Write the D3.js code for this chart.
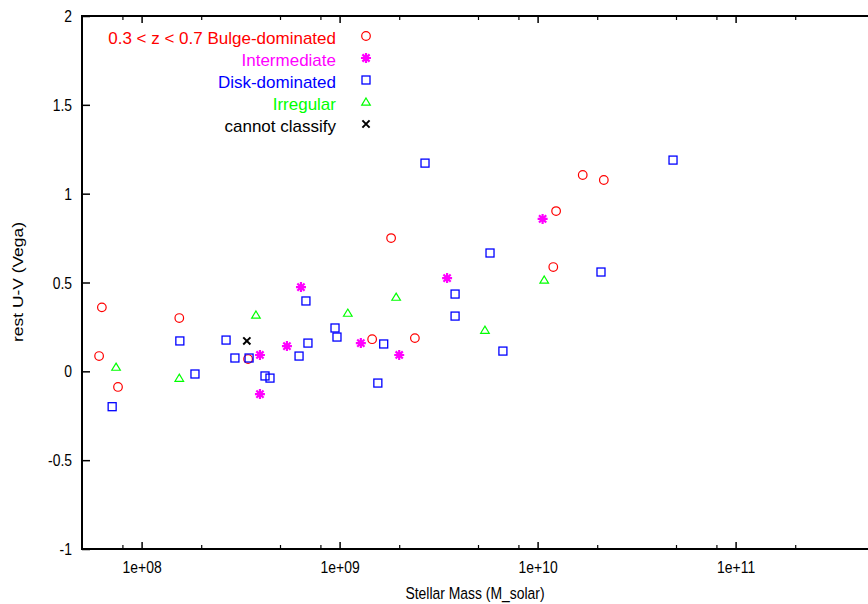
<!DOCTYPE html>
<html>
<head>
<meta charset="utf-8">
<script src="https://cdn.jsdelivr.net/npm/d3@7/dist/d3.min.js"></script>
<style>
  html, body { margin: 0; padding: 0; background: #fff; }
  svg { display: block; }
  text { font-family: "Liberation Sans", Arial, sans-serif; }
</style>
</head>
<body>
<svg id="chart" width="868" height="604"></svg>
<script>
// ---- data (stellar mass in M_solar, rest U-V in Vega mag) ----
const bulgeMass = [6.3e7, 6.1e7, 7.6e7, 1.55e8, 3.45e8, 1.82e9, 1.46e9, 2.40e9, 1.24e10, 1.20e10, 1.69e10, 2.16e10];
const bulgeUV   = [0.36, 0.086, -0.088, 0.30, 0.069, 0.75, 0.181, 0.187, 0.902, 0.587, 1.105, 1.077];

const interMass = [3.96e8, 3.96e8, 6.38e8, 5.42e8, 1.28e9, 2.0e9, 3.49e9, 1.06e10];
const interUV   = [0.092, -0.128, 0.474, 0.142, 0.159, 0.092, 0.525, 0.858];

const diskMass = [7.1e7, 1.56e8, 1.86e8, 2.67e8, 2.96e8, 3.49e8, 4.20e8, 4.45e8, 6.76e8, 6.92e8, 6.24e8,
                  9.48e8, 9.70e8, 1.67e9, 1.56e9, 2.70e9, 5.75e9, 3.83e9, 3.83e9, 6.68e9, 2.09e10, 4.83e10];
const diskUV   = [-0.199, 0.171, -0.015, 0.176, 0.075, 0.075, -0.026, -0.038, 0.396, 0.159, 0.086,
                  0.244, 0.193, 0.154, -0.066, 1.172, 0.666, 0.435, 0.311, 0.114, 0.559, 1.189];

const irrMass = [7.43e7, 1.55e8, 3.78e8, 1.10e9, 1.93e9, 5.42e9, 1.08e10];
const irrUV   = [0.024, -0.038, 0.317, 0.328, 0.418, 0.232, 0.514];

const unclMass = [3.40e8];
const unclUV   = [0.171];

const xTickValues = [1e8, 1e9, 1e10, 1e11];
const xTickLabels = ["1e+08", "1e+09", "1e+10", "1e+11"];
const yTickValues = [-1, -0.5, 0, 0.5, 1, 1.5, 2];
const yTickLabels = ["-1", "-0.5", "0", "0.5", "1", "1.5", "2"];

const seriesNames = ["0.3 < z < 0.7 Bulge-dominated", "Intermediate", "Disk-dominated", "Irregular", "cannot classify"];

// ---- layout ----
const svg = d3.select("#chart");
const W = 868, H = 604;
const pLeft = 82, pTop = 16, pBottom = 549, pRight = 874;
const FONT = "'Liberation Sans', Arial, sans-serif";
const AX_FS = 17.4, SQ = 0.8;   // axis text: tall glyphs, horizontally narrowed

const x = d3.scaleLog().domain([5e7, 5e11]).range([pLeft, pRight]);
const y = d3.scaleLinear().domain([-1, 2]).range([pBottom, pTop]);

svg.append("rect").attr("width", W).attr("height", H).attr("fill", "#fff");

// minor ticks (2,5,8 per decade)
const minorVals = [];
for (let e = 7; e <= 11; e++) {
  [2, 5, 8].forEach(m => {
    const v = m * Math.pow(10, e);
    if (v > 5e7 && v < 5e11) minorVals.push(v);
  });
}

const g = svg.append("g");

const xAxisBottom = d3.axisBottom(x).tickValues(xTickValues)
  .tickFormat((d, i) => xTickLabels[i]).tickSizeInner(-7).tickSizeOuter(0).tickPadding(12);
const gxb = g.append("g").attr("transform", `translate(0,${pBottom})`).call(xAxisBottom);
gxb.select(".domain").remove();
gxb.selectAll("line").attr("stroke", "#000").attr("stroke-width", 1.5);
gxb.selectAll("text").attr("font-size", AX_FS).attr("fill", "#000")
  .attr("font-family", FONT).attr("transform", `scale(${SQ},1)`);

const gxbm = g.append("g").attr("transform", `translate(0,${pBottom})`)
  .call(d3.axisBottom(x).tickValues(minorVals).tickFormat("").tickSizeInner(-4).tickSizeOuter(0));
gxbm.select(".domain").remove();
gxbm.selectAll("line").attr("stroke", "#000").attr("stroke-width", 1.2);

const gxt = g.append("g").attr("transform", `translate(0,${pTop})`)
  .call(d3.axisTop(x).tickValues(xTickValues).tickFormat("").tickSizeInner(-7).tickSizeOuter(0));
gxt.select(".domain").remove();
gxt.selectAll("line").attr("stroke", "#000").attr("stroke-width", 1.5);

const gxtm = g.append("g").attr("transform", `translate(0,${pTop})`)
  .call(d3.axisTop(x).tickValues(minorVals).tickFormat("").tickSizeInner(-4).tickSizeOuter(0));
gxtm.select(".domain").remove();
gxtm.selectAll("line").attr("stroke", "#000").attr("stroke-width", 1.2);

const gy = g.append("g").attr("transform", `translate(${pLeft},0)`)
  .call(d3.axisLeft(y).tickValues(yTickValues).tickFormat((d, i) => yTickLabels[i])
    .tickSizeInner(-8).tickSizeOuter(0).tickPadding(12.5));
gy.select(".domain").remove();
gy.selectAll("line").attr("stroke", "#000").attr("stroke-width", 1.5);
gy.selectAll("text").attr("font-size", AX_FS).attr("fill", "#000")
  .attr("font-family", FONT).attr("transform", `scale(${SQ},1)`);

// frame
g.append("path")
  .attr("d", `M${W + 5},${pTop} H${pLeft} V${pBottom} H${W + 5}`)
  .attr("fill", "none").attr("stroke", "#000").attr("stroke-width", 2);

// axis titles
svg.append("text").attr("transform", `translate(475,599) scale(${SQ},1)`).attr("text-anchor", "middle")
  .attr("font-size", AX_FS).attr("fill", "#000").text("Stellar Mass (M_solar)");
svg.append("text").attr("transform", `translate(23,282) scale(${SQ},1) rotate(-90)`).attr("text-anchor", "middle")
  .attr("font-size", AX_FS).attr("fill", "#000").text("rest U-V (Vega)");

// ---- marker drawers ----
function circleMark(sel, color) {
  sel.append("circle").attr("r", 4.3).attr("fill", "none").attr("stroke", color).attr("stroke-width", 1.2);
}
function squareMark(sel, color) {
  sel.append("rect").attr("x", -4).attr("y", -4).attr("width", 8).attr("height", 8)
    .attr("fill", "none").attr("stroke", color).attr("stroke-width", 1.3);
}
function triangleMark(sel, color) {
  sel.append("path").attr("d", "M0,-4 L4.3,3.2 L-4.3,3.2 Z")
    .attr("fill", "none").attr("stroke", color).attr("stroke-width", 1.2);
}
function asteriskMark(sel, color) {
  const r = 5, d = r * 0.72;
  sel.append("path")
    .attr("d", `M${-r},0H${r}M0,${-r}V${r}M${-d},${-d}L${d},${d}M${-d},${d}L${d},${-d}`)
    .attr("fill", "none").attr("stroke", color).attr("stroke-width", 2.2);
}
function crossMark(sel, color) {
  const r = 3.6;
  sel.append("path").attr("d", `M${-r},${-r}L${r},${r}M${-r},${r}L${r},${-r}`)
    .attr("fill", "none").attr("stroke", color).attr("stroke-width", 2);
}

const series = [
  { name: seriesNames[0], mass: bulgeMass, uv: bulgeUV, color: "#ff0000", mark: circleMark },
  { name: seriesNames[1], mass: interMass, uv: interUV, color: "#ff00ff", mark: asteriskMark },
  { name: seriesNames[2], mass: diskMass,  uv: diskUV,  color: "#0000ff", mark: squareMark },
  { name: seriesNames[3], mass: irrMass,   uv: irrUV,   color: "#00ff00", mark: triangleMark },
  { name: seriesNames[4], mass: unclMass,  uv: unclUV,  color: "#000000", mark: crossMark }
];

series.forEach(s => {
  const pts = s.mass.map((m, i) => ({ m, v: s.uv[i] }));
  svg.append("g").selectAll("g").data(pts).join("g")
    .attr("transform", d => `translate(${x(d.m)},${y(d.v)})`)
    .each(function () { s.mark(d3.select(this), s.color); });
});

// legend
const legend = svg.append("g");
series.forEach((s, i) => {
  const yy = 38 + i * 22;
  legend.append("text").attr("x", 336).attr("y", yy + 6).attr("text-anchor", "end")
    .attr("font-size", 17).attr("fill", s.color).text(s.name);
  const gm = legend.append("g").attr("transform", `translate(366,${yy - 2})`);
  s.mark(gm, s.color);
});
</script>
</body>
</html>
